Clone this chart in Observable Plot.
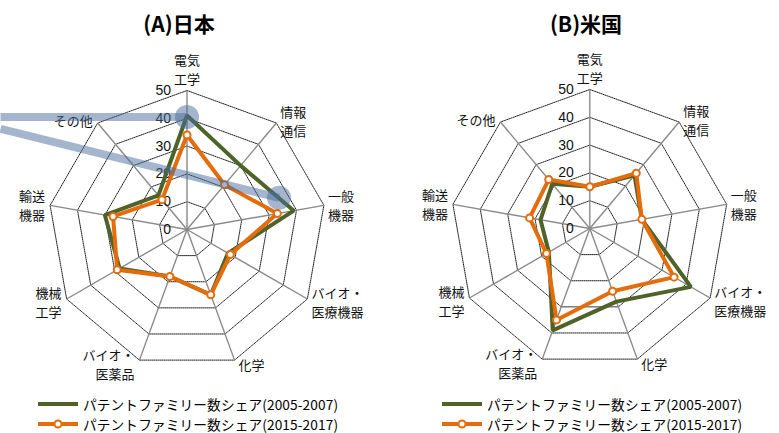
<!DOCTYPE html>
<html><head><meta charset="utf-8">
<script src="https://cdn.jsdelivr.net/npm/d3@7"></script>
<script src="https://cdn.jsdelivr.net/npm/@observablehq/plot@0.6"></script>
<style>
body{margin:0;background:#fff;}
#wrap{position:relative;width:779px;height:433px;display:flex;font-family:"Noto Sans CJK JP",sans-serif;color:#000;}
.panel{position:relative;height:433px;flex:none;}
.panel svg.plot{position:absolute;top:40px;left:0;overflow:visible;}
.title{position:absolute;top:8px;height:30px;line-height:30px;font-size:21px;font-weight:bold;white-space:nowrap;transform:translateX(-50%);}
.leg{position:absolute;height:20px;line-height:20px;font-size:13.7px;letter-spacing:0.1px;white-space:nowrap;display:flex;align-items:center;}
.leg svg{margin-right:5px;}
</style></head><body><div id="wrap"></div>
<script>
// ---- data ----
const categories = ["電気\n工学","情報\n通信","一般\n機器","バイオ・\n医療機器","化学","バイオ・\n医薬品","機械\n工学","輸送\n機器","その他"];
const japan2005 = [41, 30, 39, 17, 25, 18, 28, 30, 16];
const japan2015 = [34, 21, 33, 18, 25, 18, 29, 27, 14];
const us2005 = [15, 25, 19, 42, 28, 39, 17, 18, 21];
const us2015 = [15, 26, 19, 35, 24, 35, 18, 22, 23];
const tickValues = [0, 10, 20, 30, 40, 50];
const seriesNames = ["パテントファミリー数シェア(2005-2007)", "パテントファミリー数シェア(2015-2017)"];
const panelTitles = ["(A)日本", "(B)米国"];
// highlight annotation on panel A (angle in degrees clockwise from top, value on the radial scale)
const highlightA = [{angle: 0, value: 40.5, fromValue: 40.5}, {angle: 71, value: 35, fromValue: 36.2}];

const colors = {s2005: "#4f6228", s2015: "#e46c0a"};
const RMAX = 50;
const K = 139 / RMAX; // px per unit
const H = 355;

function polar(angleDeg, v) {
  const a = angleDeg * Math.PI / 180;
  return {x: v * Math.sin(a), y: v * Math.cos(a)};
}

function makePanel({W, cx, cy, s1, s2, title, titleX, legX, highlight}) {
  const n = categories.length;
  const step = 360 / n;
  const xDomain = [-cx / K, (W - cx) / K];
  const yDomain = [-(H - cy) / K, cy / K];

  const rings = [];
  for (const t of tickValues.filter(d => d > 0)) {
    categories.forEach((c, i) => rings.push({level: t, ...polar(i * step, t)}));
  }
  const spokes = categories.map((c, i) => ({cat: c, i, ...polar(i * step, RMAX)}));
  const labels = categories.map((c, i) => {
    const a = i * step * Math.PI / 180;
    const s = Math.sin(a), co = Math.cos(a);
    const side = Math.abs(s) < 0.01 ? "middle" : (s > 0 ? "start" : "end");
    return {cat: c, side, ...polar(i * step, RMAX),
      dx: side === "middle" ? 0 : (side === "start" ? 4 : -5),
      dy: side === "middle" ? -22 : -4 * co};
  });
  const series = [];
  s1.forEach((v, i) => series.push({s: "s2005", v, ...polar(i * step, v)}));
  s2.forEach((v, i) => series.push({s: "s2015", v, ...polar(i * step, v)}));
  const tickPts = tickValues.map(t => ({t, x: 0, y: t}));

  const marks = [
    Plot.line(rings, {x: "x", y: "y", z: "level", curve: "linear-closed", stroke: "#222", strokeWidth: 1, strokeDasharray: "1,1"}),
    Plot.link(spokes, {x1: () => 0, y1: () => 0, x2: "x", y2: "y", stroke: "#8a8a8a", strokeWidth: 1.4}),
    Plot.text(tickPts, {x: "x", y: "y", text: d => String(d.t), textAnchor: "end", dx: -16, fontSize: 14, fontFamily: "Liberation Sans, Arial, sans-serif", fill: "#111"}),
    Plot.line(series.filter(d => d.s === "s2005"), {x: "x", y: "y", curve: "linear-closed", stroke: colors.s2005, strokeWidth: 4, strokeLinejoin: "miter"}),
    Plot.line(series.filter(d => d.s === "s2015"), {x: "x", y: "y", curve: "linear-closed", stroke: colors.s2015, strokeWidth: 4, strokeLinejoin: "miter"}),
    Plot.dot(series.filter(d => d.s === "s2015"), {x: "x", y: "y", r: 3.5, fill: "#fff", stroke: colors.s2015, strokeWidth: 2})
  ];
  for (const side of ["start", "end", "middle"]) {
    marks.push(Plot.text(labels.filter(d => d.side === side), {
      x: "x", y: "y", text: "cat", textAnchor: side, lineAnchor: "middle", lineHeight: 1.46,
      fontSize: 13, fontFamily: "Noto Sans CJK JP, sans-serif", fill: "#111"
    }));
  }
  if (highlight) {
    const hl = highlight.map(h => {
      const p = polar(h.angle, h.value);
      return {x1: xDomain[0], y1: h.fromValue, x2: p.x, y2: p.y};
    });
    marks.push(Plot.link(hl, {x1: "x1", y1: "y1", x2: "x2", y2: "y2", stroke: "#4a6c9b", strokeOpacity: 0.5, strokeWidth: 8, strokeLinecap: "butt"}));
    marks.push(Plot.dot(hl, {x: "x2", y: "y2", r: 12, fill: "#4a6c9b", fillOpacity: 0.5}));
  }

  const svg = Plot.plot({
    width: W, height: H, margin: 0,
    x: {domain: xDomain, axis: null},
    y: {domain: yDomain, axis: null},
    style: {overflow: "visible", background: "transparent"},
    marks
  });
  svg.classList.add("plot");

  const panel = document.createElement("div");
  panel.className = "panel";
  panel.style.width = W + "px";
  panel.appendChild(svg);

  const t = document.createElement("div");
  t.className = "title";
  t.style.left = titleX + "px";
  t.textContent = title;
  panel.appendChild(t);

  seriesNames.forEach((name, i) => {
    const row = document.createElement("div");
    row.className = "leg";
    row.style.left = legX + "px";
    row.style.top = (i === 0 ? 394 : 414) + "px";
    const col = i === 0 ? colors.s2005 : colors.s2015;
    row.innerHTML = `<svg width="40" height="10"><line x1="0" y1="5" x2="40" y2="5" stroke="${col}" stroke-width="4"/>` +
      (i === 1 ? `<circle cx="20" cy="5" r="3.5" fill="#fff" stroke="${col}" stroke-width="2"/>` : "") +
      `</svg><span>${name}</span>`;
    panel.appendChild(row);
  });
  return {panel, svg, labels};
}

function applyLabelOffsets(svg, labels) {
  // the three label text groups are placed in order start, end, middle (after the tick text)
  const groups = [...svg.querySelectorAll('g[aria-label="text"]')].slice(1);
  const order = ["start", "end", "middle"];
  groups.forEach((g, gi) => {
    const subset = labels.filter(d => d.side === order[gi]);
    [...g.querySelectorAll("text")].forEach((el, k) => {
      const d = subset[k];
      if (!d) return;
      const tr = el.getAttribute("transform") || "";
      el.setAttribute("transform", tr + ` translate(${d.dx},${d.dy})`);
    });
  });
}

const wrap = document.getElementById("wrap");
const A = makePanel({W: 390, cx: 186.5, cy: 189, s1: japan2005, s2: japan2015, title: panelTitles[0], titleX: 179, legX: 38, highlight: highlightA});
const B = makePanel({W: 389, cx: 199.3, cy: 188, s1: us2005, s2: us2015, title: panelTitles[1], titleX: 196, legX: 52, highlight: null});
wrap.appendChild(A.panel);
wrap.appendChild(B.panel);
applyLabelOffsets(A.svg, A.labels);
applyLabelOffsets(B.svg, B.labels);
</script></body></html>
